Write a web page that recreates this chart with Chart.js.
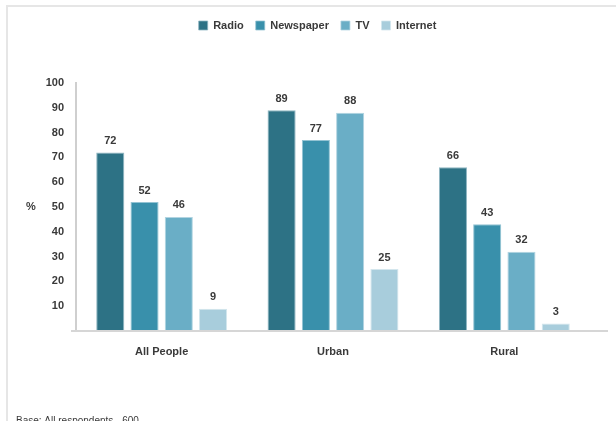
<!DOCTYPE html>
<html>
<head>
<meta charset="utf-8">
<script src="https://cdn.jsdelivr.net/npm/chart.js@4"></script>
<style>
  html, body { margin: 0; padding: 0; background: #fff; }
  #wrap { width: 616px; height: 421px; position: relative; }
</style>
</head>
<body>
<div id="wrap"><canvas id="myChart" width="616" height="421"></canvas></div>
<script>
'use strict'

let groupNames = ['All People', 'Urban', 'Rural'];
let mediaNames = ['Radio', 'Newspaper', 'TV', 'Internet'];
let radioValues = [72, 89, 66];
let newspaperValues = [52, 77, 43];
let tvValues = [46, 88, 32];
let internetValues = [9, 25, 3];
let yTicks = [0, 10, 20, 30, 40, 50, 60, 70, 80, 90, 100];
let yTitle = '%';
let footNote = 'Base: All respondents - 600';

let barColors = ['#2d7285', '#3990ab', '#6aaec6', '#a8cddc'];
let edgeColors = ['#8fb6c2', '#93c3d3', '#b2d4e1', '#d3e6ed'];
let textColor = '#3a3a3a';
let fontName = '"Liberation Sans", Arial, sans-serif';

// empty box between the legend and the plot, pushes the plot down
let legendGap = {
    id: 'legendGap',
    beforeInit(chart) {
        Chart.layouts.addBox(chart, {
            position: 'top',
            weight: 0,
            fullSize: true,
            options: {},
            isHorizontal() { return true; },
            update(maxWidth) { this.width = maxWidth; this.height = 42; },
            draw() {}
        });
    }
};

// value above each bar
let valueLabels = {
    id: 'valueLabels',
    afterDatasetsDraw(chart) {
        let ctx = chart.ctx;
        ctx.save();
        ctx.fillStyle = textColor;
        ctx.font = 'bold 11px ' + fontName;
        ctx.textAlign = 'center';
        ctx.textBaseline = 'bottom';
        chart.data.datasets.forEach(function (ds, i) {
            chart.getDatasetMeta(i).data.forEach(function (bar, j) {
                ctx.fillText(ds.data[j], bar.x, bar.y - 6);
            });
        });
        ctx.restore();
    }
};

// frame, long base line, axis title and footnote
let extras = {
    id: 'extras',
    beforeDraw(chart) {
        let ctx = chart.ctx;
        ctx.save();
        ctx.strokeStyle = '#e6e6e6';
        ctx.lineWidth = 2;
        ctx.beginPath();
        ctx.moveTo(7, 421);
        ctx.lineTo(7, 6);
        ctx.lineTo(616, 6);
        ctx.stroke();
        ctx.restore();
    },
    afterDraw(chart) {
        let ctx = chart.ctx;
        let area = chart.chartArea;
        ctx.save();
        ctx.strokeStyle = '#d6d6d6';
        ctx.lineWidth = 2;
        ctx.beginPath();
        ctx.moveTo(area.left - 5, area.bottom);
        ctx.lineTo(608, area.bottom);
        ctx.stroke();
        ctx.fillStyle = textColor;
        ctx.font = 'bold 11px ' + fontName;
        ctx.textAlign = 'center';
        ctx.textBaseline = 'middle';
        ctx.fillText(yTitle, 31, (area.top + area.bottom) / 2);
        ctx.font = '10px ' + fontName;
        ctx.textAlign = 'left';
        ctx.textBaseline = 'top';
        ctx.fillText(footNote, 16, 416);
        ctx.restore();
    }
};

function makeSet(i, values) {
    return {
        label: mediaNames[i],
        data: values,
        backgroundColor: barColors[i],
        borderColor: edgeColors[i],
        borderWidth: { left: 1, right: 1, top: 1, bottom: 0 },
        borderSkipped: false,
        barPercentage: 0.82,
        categoryPercentage: 0.8
    };
}

let ctx = document.getElementById('myChart').getContext('2d');
let chart = new Chart(ctx, {
    type: 'bar',
    data: {
        labels: groupNames,
        datasets: [
            makeSet(0, radioValues),
            makeSet(1, newspaperValues),
            makeSet(2, tvValues),
            makeSet(3, internetValues)
        ]
    },
    options: {
        responsive: false,
        animation: false,
        layout: { padding: { left: 45, right: 26, top: 8, bottom: 0 } },
        plugins: {
            legend: {
                position: 'top',
                labels: {
                    boxWidth: 9,
                    boxHeight: 9,
                    padding: 12,
                    color: textColor,
                    font: { family: fontName, size: 11, weight: 'bold' }
                }
            },
            tooltip: { enabled: false }
        },
        scales: {
            x: {
                grid: { display: false, drawTicks: false },
                border: { display: false },
                ticks: {
                    color: textColor,
                    padding: 14,
                    font: { family: fontName, size: 11, weight: 'bold' }
                },
                afterFit(scale) { scale.height = 90; }
            },
            y: {
                min: 0,
                max: 100,
                afterBuildTicks(scale) {
                    scale.ticks = yTicks.map(function (v) { return { value: v }; });
                },
                grid: { display: false, drawOnChartArea: false, drawTicks: true, tickLength: 5, color: '#cfcfcf' },
                border: { display: true, color: '#cfcfcf', width: 2 },
                ticks: {
                    color: textColor,
                    padding: 7,
                    font: { family: fontName, size: 11, weight: 'bold' },
                    callback: function (v) { return v === 0 ? '' : v; }
                },
                afterFit(scale) { scale.width = 31; }
            }
        }
    },
    plugins: [legendGap, valueLabels, extras]
});
</script>
</body>
</html>
